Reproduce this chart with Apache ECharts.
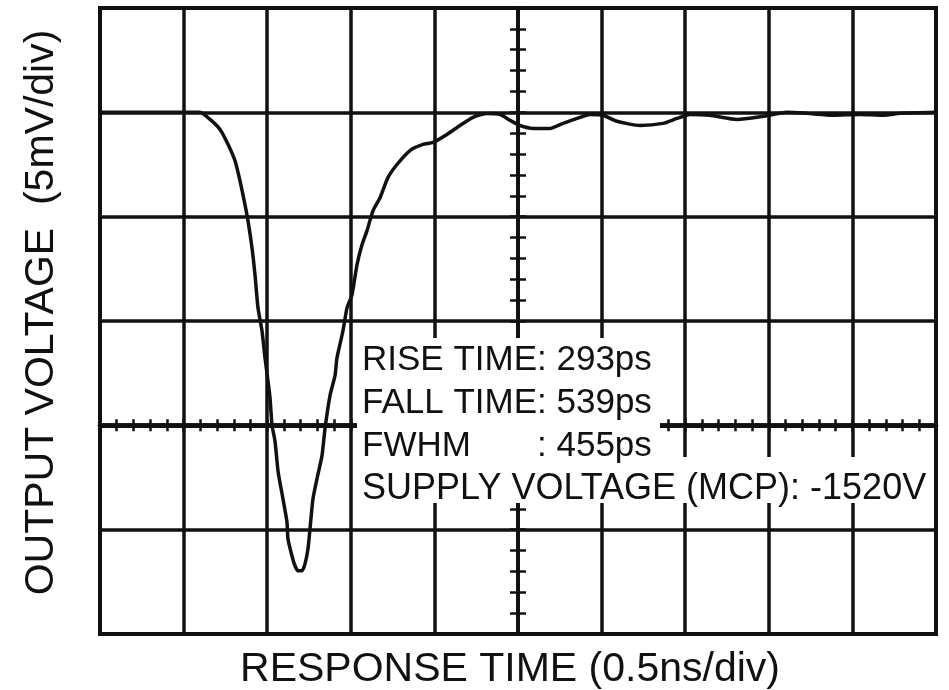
<!DOCTYPE html>
<html><head><meta charset="utf-8">
<script src="https://cdn.jsdelivr.net/npm/echarts@6/dist/echarts.min.js"></script>
<style>html,body{margin:0;padding:0;background:#fff}#c{width:949px;height:690px}</style>
</head><body><div id="c"></div>
<script>
// Time axis (ns), 0.5 ns per division
const timeNs = [0.000,0.299,0.598,0.658,0.718,0.766,0.807,0.837,0.867,0.885,0.909,0.927,0.945,0.969,0.987,1.005,1.017,1.029,1.047,1.065,1.094,1.118,1.124,1.148,1.166,1.184,1.208,1.226,1.244,1.256,1.274,1.298,1.328,1.346,1.376,1.406,1.417,1.453,1.477,1.507,1.537,1.567,1.597,1.633,1.675,1.722,1.776,1.854,1.932,1.992,2.075,2.153,2.231,2.315,2.392,2.452,2.512,2.590,2.691,2.769,2.853,2.931,3.008,3.092,3.230,3.367,3.451,3.529,3.648,3.810,3.965,4.109,4.228,4.384,4.545,4.683,4.785,5.000];
// Output voltage (mV), 5 mV per division
const outputMv = [0,0,0,-0.34,-0.82,-1.54,-2.31,-3.27,-4.42,-5.19,-6.49,-7.79,-9.38,-10.48,-11.78,-12.89,-13.70,-15.00,-15.77,-17.21,-18.51,-19.62,-20.43,-21.25,-21.73,-21.97,-21.97,-21.64,-20.91,-19.95,-18.51,-17.55,-16.44,-15.14,-13.56,-12.60,-11.78,-10.48,-9.38,-8.75,-7.31,-6.35,-5.67,-4.71,-4.09,-3.13,-2.50,-1.83,-1.54,-1.44,-1.06,-0.63,-0.24,-0.05,-0.10,-0.38,-0.63,-0.77,-0.77,-0.53,-0.29,-0.10,-0.14,-0.43,-0.63,-0.53,-0.29,-0.10,-0.14,-0.34,-0.19,0,-0.05,-0.14,-0.10,-0.14,-0.05,0];
const xTitle = 'RESPONSE TIME (0.5ns/div)';
const yTitle = 'OUTPUT VOLTAGE  (5mV/div)';
const noteLines = ['RISE TIME: 293ps', 'FALL TIME: 539ps', 'FWHM', ': 455ps', 'SUPPLY VOLTAGE (MCP): -1520V'];

const INK = '#111';
const FONT = '"Liberation Sans", Arial, sans-serif';
const chart = echarts.init(document.getElementById('c'));

const hiddenAxis = {show:false};
function centerX(inside){
  return {type:'value', min:0, max:5, interval:0.5, position:'bottom',
    axisLine:{show:true, onZero:true, onZeroAxisIndex:1, lineStyle:{color:INK, width:4.5}},
    axisTick:{show:true, inside:inside, length:6, lineStyle:{color:INK, width:2.5}},
    minorTick:{show:true, splitNumber:5, length:6, lineStyle:{color:INK, width:2.5}},
    axisLabel:{show:false}, splitLine:{show:false}};
}
function centerY(inside){
  return {type:'value', min:-25, max:5, interval:5, position:'left',
    axisLine:{show:true, onZero:true, onZeroAxisIndex:1, lineStyle:{color:INK, width:3.5}},
    axisTick:{show:true, inside:inside, length:8, lineStyle:{color:INK, width:2.5}},
    minorTick:{show:true, splitNumber:5, length:8, lineStyle:{color:INK, width:2.5}},
    axisLabel:{show:false}, splitLine:{show:false}};
}

chart.setOption({
  animation:false,
  backgroundColor:'#fff',
  grid:{left:100, right:13, top:8, bottom:56, outerBoundsMode:'none', containLabel:false,
        show:true, borderColor:INK, borderWidth:4},
  xAxis:[
    {type:'value', min:0, max:5, interval:0.5, position:'bottom',
     axisLine:{show:false, onZero:false}, axisTick:{show:false}, axisLabel:{show:false},
     splitLine:{show:true, lineStyle:{color:INK, width:3.5}},
     name:xTitle, nameLocation:'middle', nameGap:15,
     nameTextStyle:{fontFamily:FONT, fontSize:41, color:INK, padding:[0,16,0,0]}},
    Object.assign({type:'value', min:-2.5, max:2.5, position:'bottom'}, hiddenAxis),
    centerX(false), centerX(true)
  ],
  yAxis:[
    {type:'value', min:-25, max:5, interval:5, position:'left',
     axisLine:{show:false, onZero:false}, axisTick:{show:false}, axisLabel:{show:false},
     splitLine:{show:true, lineStyle:{color:INK, width:3.5}},
     name:yTitle, nameLocation:'middle', nameGap:38,
     nameTextStyle:{fontFamily:FONT, fontSize:41, color:INK, padding:[0,0,0,17]}},
    Object.assign({type:'value', min:-10, max:20, position:'left'}, hiddenAxis),
    centerY(false), centerY(true)
  ],
  series:[{
    type:'line', xAxisIndex:0, yAxisIndex:0, showSymbol:false, smooth:0.2, z:5,
    lineStyle:{color:INK, width:3.5},
    data: timeNs.map((t,i)=>[t, outputMv[i]])
  }],
  graphic:[
    {type:'rect', left:357, top:338, z:100, shape:{width:303, height:119}, style:{fill:'#fff'}},
    {type:'rect', left:357, top:457, z:100, shape:{width:575, height:46}, style:{fill:'#fff'}},
    {type:'text', left:362, top:343, z:101, style:{text:noteLines[0], font:'35px '+FONT, fill:INK}},
    {type:'text', left:362, top:386, z:101, style:{text:noteLines[1], font:'35px '+FONT, fill:INK}},
    {type:'text', left:362, top:429, z:101, style:{text:noteLines[2], font:'35px '+FONT, fill:INK}},
    {type:'text', left:537, top:429, z:101, style:{text:noteLines[3], font:'35px '+FONT, fill:INK}},
    {type:'text', left:362, top:471, z:101, style:{text:noteLines[4], font:'36px '+FONT, fill:INK}}
  ]
});
</script>
</body></html>
